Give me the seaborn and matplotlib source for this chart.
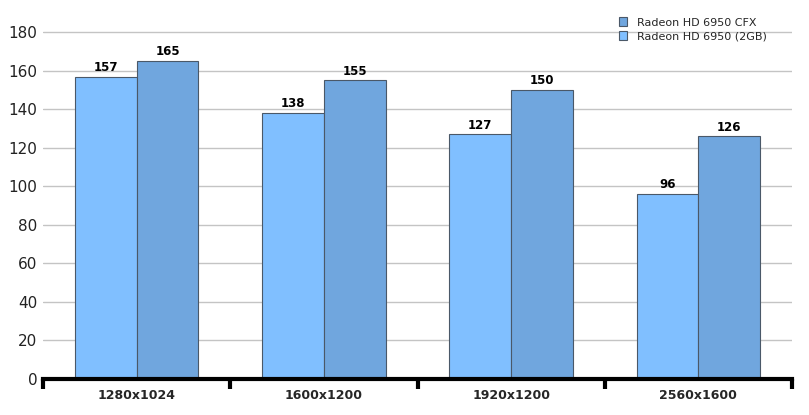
import pandas as pd
import numpy as np
import matplotlib
matplotlib.use("Agg")
import matplotlib.pyplot as plt
import seaborn as sns

# data
resolutions = ["1280x1024", "1600x1200", "1920x1200", "2560x1600"]
single_2gb = [157, 138, 127, 96]
cfx = [165, 155, 150, 126]
series_names = ["Radeon HD 6950 (2GB)", "Radeon HD 6950 CFX"]
yticks = [0, 20, 40, 60, 80, 100, 120, 140, 160, 180]

df = pd.DataFrame({
    "res": resolutions * 2,
    "fps": single_2gb + cfx,
    "card": [series_names[0]] * 4 + [series_names[1]] * 4,
})

sns.set_style("white")
plt.rcParams['font.family'] = ['DejaVu Sans']

fig = plt.figure(figsize=(8.09, 4.15), dpi=100)
ax = fig.add_axes([0.0532, 0.0867, 0.9258, 0.882])

palette = {series_names[0]: "#80BFFF", series_names[1]: "#70A6DE"}
sns.barplot(data=df, x="res", y="fps", hue="card", order=resolutions,
            hue_order=series_names, palette=palette, width=0.66,
            edgecolor="#4a5868", linewidth=0.8, saturation=1, ax=ax, zorder=2)

# value labels
for cont in ax.containers:
    ax.bar_label(cont, labels=[f"{int(v)}" for v in cont.datavalues],
                 padding=2, fontsize=8.5, fontweight="bold", color="black")

ax.set_ylim(0, 190)
ax.set_xlim(-0.5, 3.5)
ax.set_yticks(yticks)
ax.yaxis.grid(True, color="#c4c4c4", linewidth=1)
ax.set_axisbelow(True)
ax.tick_params(axis="y", length=0, labelsize=11, labelcolor="#222222", pad=4)

ax.set_xticks(range(len(resolutions)))
ax.set_xticklabels(resolutions, fontweight="bold", fontsize=9)
ax.set_xticks(np.arange(-0.5, 4, 1), minor=True)
ax.tick_params(axis="x", which="major", bottom=False, length=0, pad=7)
ax.tick_params(axis="x", which="minor", bottom=True, length=7, width=3,
               color="black", direction="out")

for s in ["top", "right", "left"]:
    ax.spines[s].set_visible(False)
ax.spines["bottom"].set_linewidth(3)
ax.spines["bottom"].set_color("black")

ax.set_xlabel("")
ax.set_ylabel("")

handles, labels = ax.get_legend_handles_labels()
ax.legend(handles[::-1], labels[::-1], loc="upper left",
          bbox_to_anchor=(0.755, 1.015), frameon=False, fontsize=8,
          handlelength=0.8, handleheight=0.8, handletextpad=0.9,
          labelspacing=0.35)

fig.savefig("out.png", dpi=100)
